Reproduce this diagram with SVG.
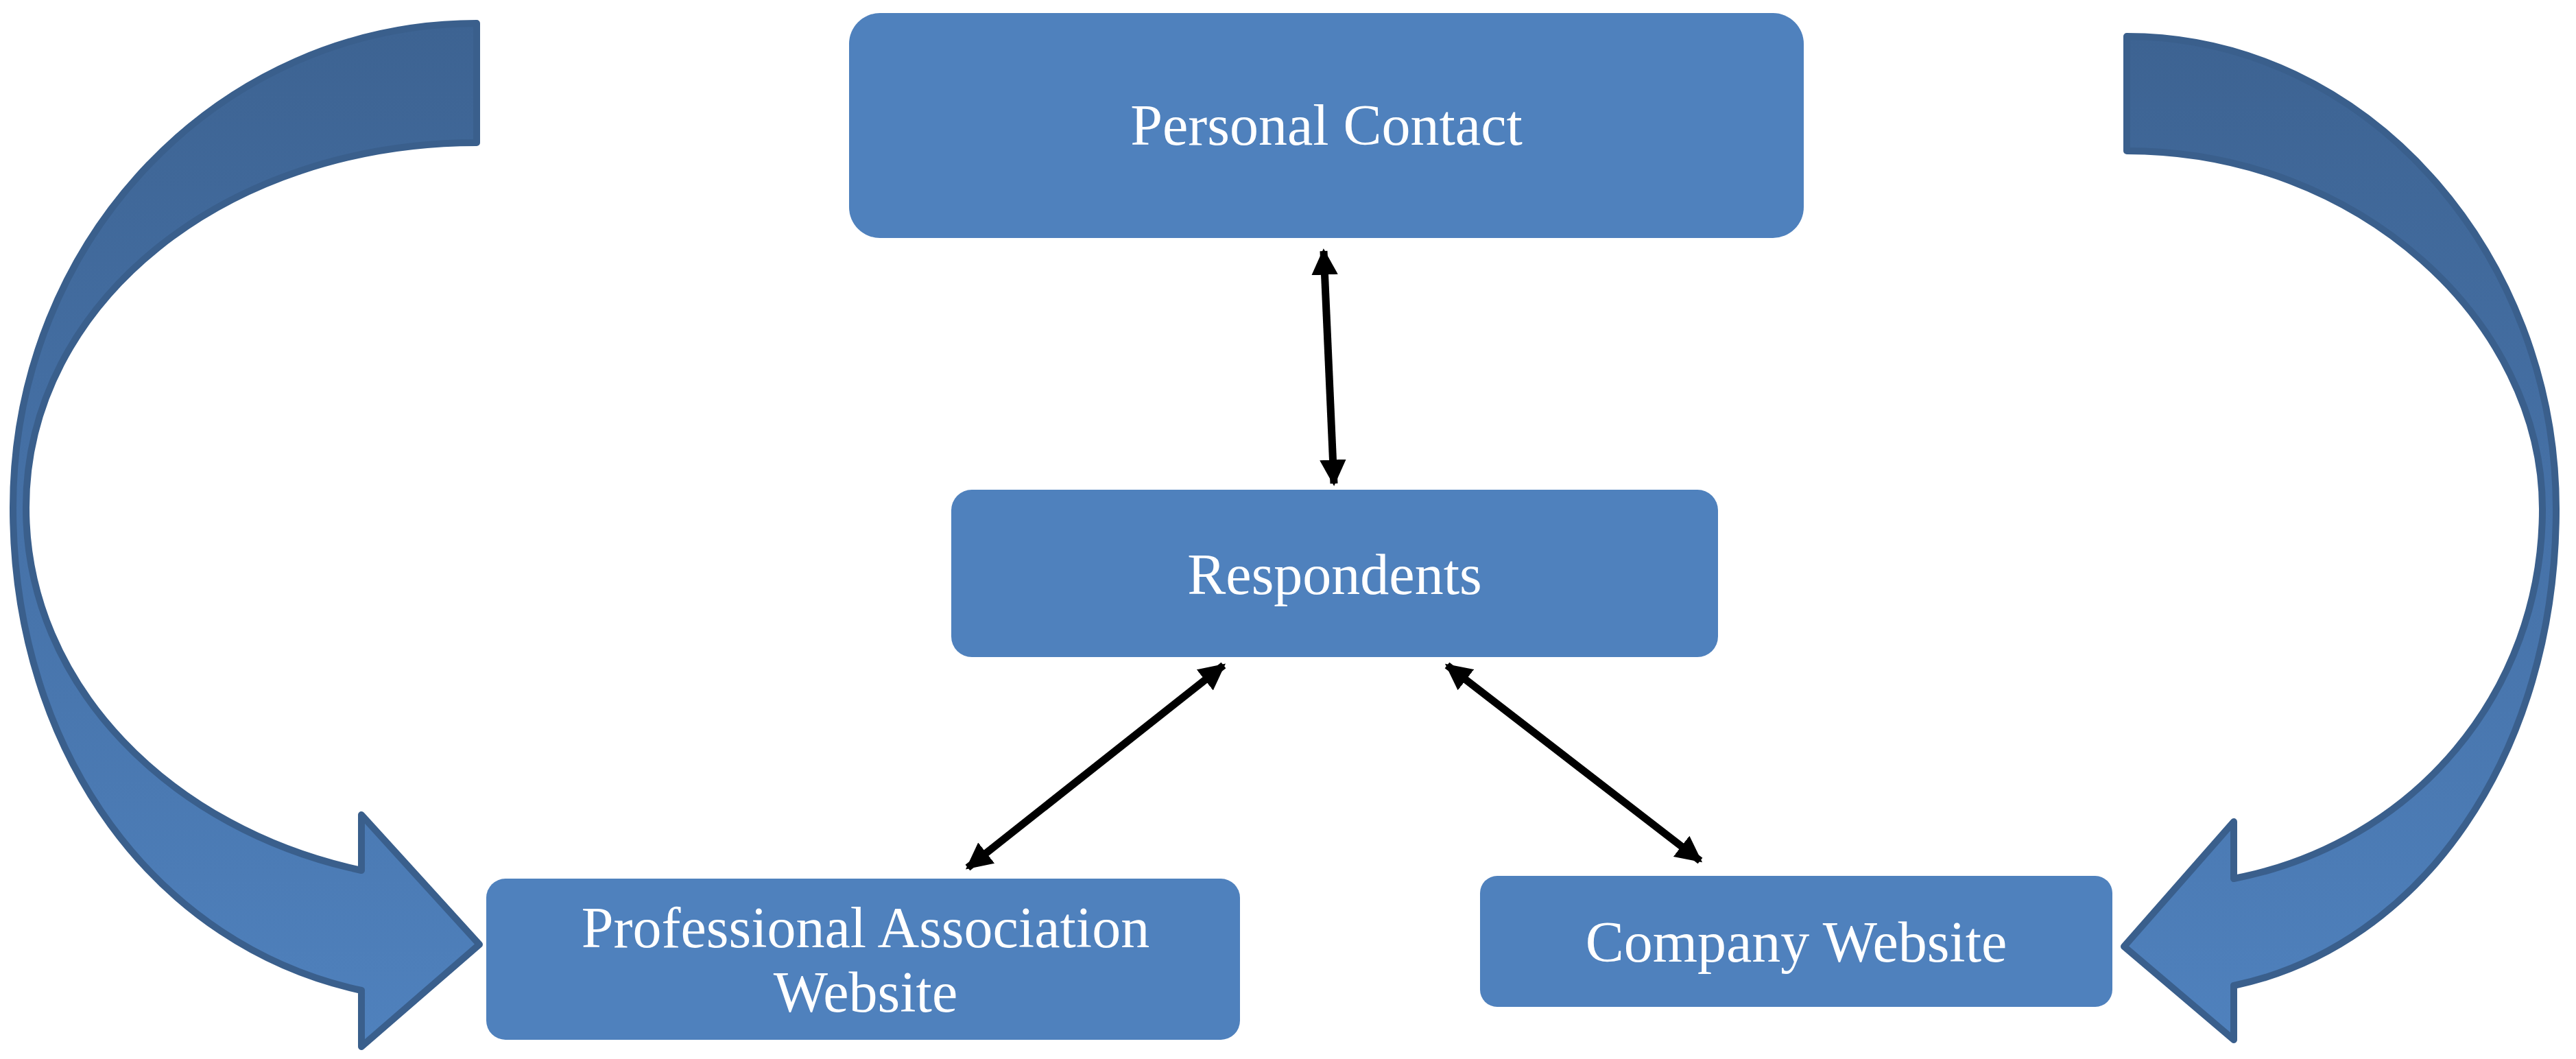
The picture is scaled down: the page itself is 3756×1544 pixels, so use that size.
<svg xmlns="http://www.w3.org/2000/svg" width="3756" height="1544" viewBox="0 0 3756 1544">
<style>
.box{fill:#4f81bd;}
.t{font-family:"Liberation Serif",serif;font-size:84px;fill:#fff;text-anchor:middle;}
.c{stroke:#000;stroke-width:11;fill:none;marker-start:url(#a);marker-end:url(#a);}
.big{fill:url(#g);stroke:#3a5f8c;stroke-width:10;stroke-linejoin:round;}
</style>
<defs>
<marker id="a" viewBox="0 0 10 10" refX="9" refY="5" markerWidth="3.5" markerHeight="3.5" orient="auto-start-reverse" markerUnits="strokeWidth"><path d="M0,0 L10,5 L0,10 Z" fill="#000"/></marker>
<linearGradient id="g" x1="0" y1="0" x2="0" y2="1"><stop offset="0" stop-color="#3d6392"/><stop offset="0.5" stop-color="#4672a8"/><stop offset="1" stop-color="#4f81bd"/></linearGradient>
</defs>
<g id="leftArrow"><path class="big" d="M695,34 L695,208 C330,208 38,440 38,740 C38,1000 250,1210 527,1269 L527,1188 L699,1377 L527,1526 L527,1444 C230,1380 19,1100 19,740 C19,350 320,34 695,34 Z"/></g>
<g id="rightArrow"><path class="big" d="M3101,53 L3101,220 C3440,220 3707,470 3707,742 C3707,1010 3520,1230 3257,1281 L3257,1198 L3097,1380 L3257,1516 L3257,1437 C3530,1380 3727,1100 3727,742 C3727,370 3450,53 3101,53 Z"/></g>
<g id="personal"><rect class="box" x="1238" y="19" width="1392" height="328" rx="45"/><text class="t" x="1934" y="211">Personal Contact</text></g>
<g id="respondents"><rect class="box" x="1387" y="714" width="1118" height="244" rx="30"/><text class="t" x="1946" y="866">Respondents</text></g>
<g id="professional"><rect class="box" x="709" y="1281" width="1099" height="235" rx="28"/><text class="t" x="1262" y="1381">Professional Association</text><text class="t" x="1262" y="1475">Website</text></g>
<g id="company"><rect class="box" x="2158" y="1277" width="922" height="191" rx="25"/><text class="t" x="2619" y="1402">Company Website</text></g>
<g id="connectors">
<line class="c" x1="1930" y1="366" x2="1945" y2="705"/>
<line class="c" x1="1784" y1="970" x2="1411" y2="1265"/>
<line class="c" x1="2110" y1="970" x2="2479" y2="1255"/>
</g>
</svg>
